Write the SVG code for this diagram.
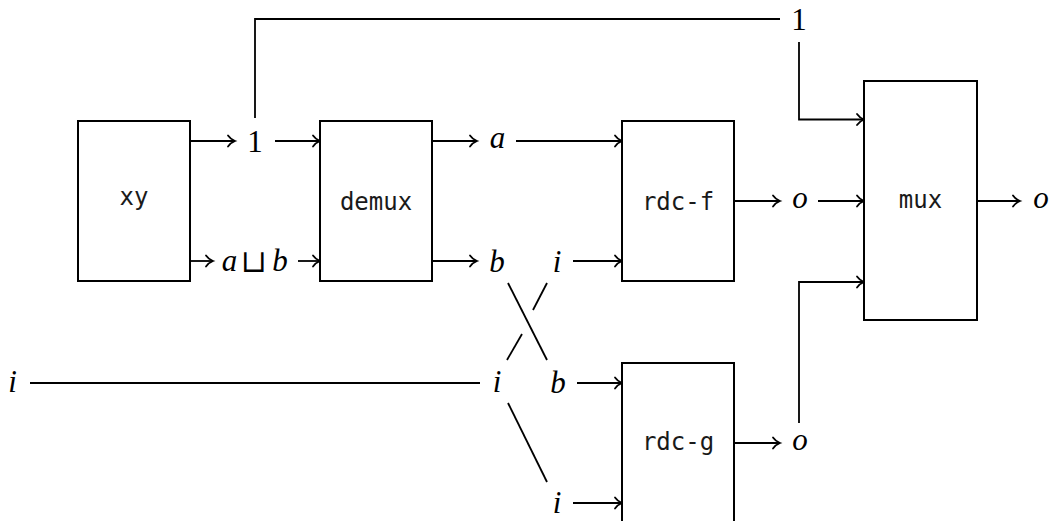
<svg xmlns="http://www.w3.org/2000/svg" width="1049" height="521" viewBox="0 0 1049 521">
<defs>
<marker id="arr" markerUnits="userSpaceOnUse" markerWidth="14" markerHeight="14" viewBox="-10 -7 14 14" refX="0" refY="0" orient="auto" overflow="visible">
<path d="M -7 -5.5 C -5 -2.5, -2 -0.8, 0 0 C -2 0.8, -5 2.5, -7 5.5" fill="none" stroke="#000" stroke-width="1.8" stroke-linecap="round"/>
</marker>
</defs>
<style>
.box{fill:#fff;stroke:#000;stroke-width:2}
.lbl{font-family:"DejaVu Sans Mono","Liberation Mono",monospace;font-size:24px;fill:#1a1a1a;text-anchor:middle}
.m{font-family:"Liberation Serif","DejaVu Serif",serif;font-size:31px;font-style:italic;fill:#000;text-anchor:middle}
.n{font-style:normal}
.w{fill:none;stroke:#000;stroke-width:1.8}
.a{marker-end:url(#arr)}
</style>
<rect width="1049" height="521" fill="#fff"/>
<g id="connectors">
<path class="w a" d="M190 141 H235"/>
<path class="w a" d="M275 141 H320"/>
<path class="w" d="M255 118 V19 H780"/>
<path class="w a" d="M190 261 H213"/>
<path class="w a" d="M298 261 H320"/>
<path class="w a" d="M432 141 H477"/>
<path class="w a" d="M516 141 H622"/>
<path class="w a" d="M432 261 H477"/>
<path class="w a" d="M573 261 H622"/>
<path class="w" d="M508 283 L547 360"/>
<path class="w" d="M547 283 L533 310"/>
<path class="w" d="M522 334 L507 360"/>
<path class="w" d="M30 383 H480"/>
<path class="w a" d="M577 383 H622"/>
<path class="w" d="M508 403 L547 482"/>
<path class="w a" d="M573 503 H622"/>
<path class="w a" d="M734 201 H780"/>
<path class="w a" d="M818 201 H864"/>
<path class="w a" d="M799 42 V119.5 H864"/>
<path class="w a" d="M734 443 H780"/>
<path class="w a" d="M799 423 V282 H864"/>
<path class="w a" d="M977 201 H1020"/>
</g>
<g id="labels">
<text class="m n" x="255" y="151.5">1</text>
<text class="m n" x="799" y="30">1</text>
<text class="m" x="229.5" y="271">a</text>
<text class="m n" x="254" y="271.5" font-family="'DejaVu Sans',sans-serif" font-size="26">⊔</text>
<text class="m" x="280" y="271">b</text>
<text class="m" x="497.5" y="147.5">a</text>
<text class="m" x="497" y="271.5">b</text>
<text class="m" x="557" y="271.5">i</text>
<text class="m" x="12.5" y="392">i</text>
<text class="m" x="497" y="392">i</text>
<text class="m" x="558" y="393">b</text>
<text class="m" x="557" y="513">i</text>
<text class="m" x="800" y="208">o</text>
<text class="m" x="800" y="450">o</text>
<text class="m" x="1041" y="208">o</text>
</g>
<g id="xy"><rect class="box" x="78" y="121" width="112" height="160"/><text class="lbl" x="134" y="205">xy</text></g>
<g id="demux"><rect class="box" x="320" y="121" width="112" height="160"/><text class="lbl" x="376" y="210">demux</text></g>
<g id="rdc-f"><rect class="box" x="622" y="121" width="112" height="160"/><text class="lbl" x="678" y="210">rdc-f</text></g>
<g id="rdc-g"><rect class="box" x="622" y="363" width="112" height="160"/><text class="lbl" x="678" y="449.5">rdc-g</text></g>
<g id="mux"><rect class="box" x="864" y="81" width="113" height="239"/><text class="lbl" x="920.5" y="208">mux</text></g>
</svg>
